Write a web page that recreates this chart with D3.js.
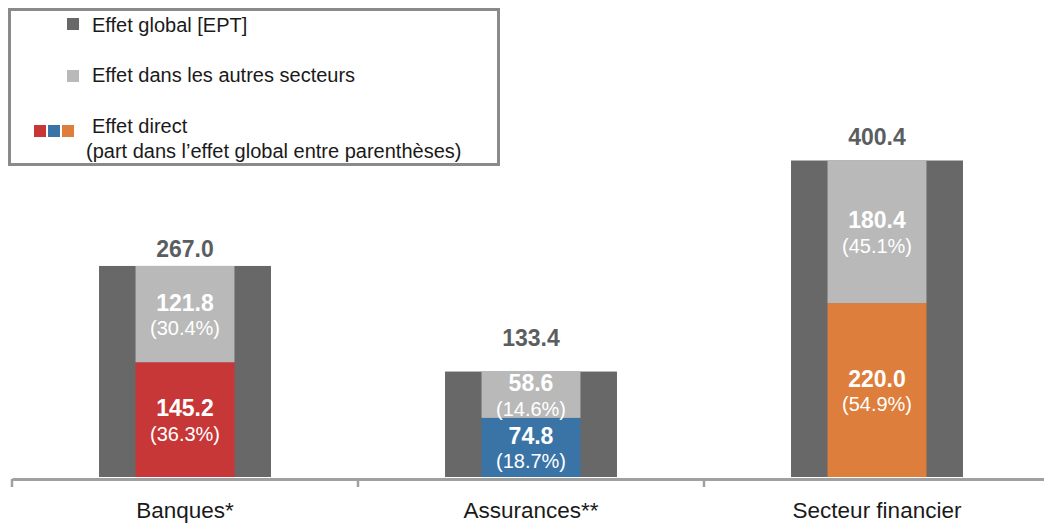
<!DOCTYPE html>
<html lang="fr">
<head>
  <meta charset="UTF-8">
  <title>Effet global, direct et dans les autres secteurs</title>
  <script src="https://d3js.org/d3.v7.min.js"></script>
  <style>
    body { margin: 0; background: #fff; }
    svg { display: block; font-family: "Liberation Sans", Arial, sans-serif; }
  </style>
</head>
<body>
  <svg width="1044" height="523"></svg>
  <script>
    // values
    const categories = ["Banques*", "Assurances**", "Secteur financier"];
    const globalEffect = [267.0, 133.4, 400.4];
    const otherSectors = [121.8, 58.6, 180.4];
    const directEffect = [145.2, 74.8, 220.0];
    const otherShare = [30.4, 14.6, 45.1];
    const directShare = [36.3, 18.7, 54.9];

    const directColors = ["#c83737", "#3a74a7", "#dd7e3c"];
    const totalLabelGap = [9, 26, 16]; // labels sit at uneven heights in the original

    const svg = d3.select("svg");

    const x = d3.scaleBand().domain(categories).range([12, 1050]).padding(0);
    const y = d3.scaleLinear().domain([0, 400.4]).range([477, 160.5]);
    const bw = x.bandwidth();
    const outerW = bw * 0.497, innerW = bw * 0.286;

    const rows = categories.map((c, i) => ({
      cat: c, total: globalEffect[i], other: otherSectors[i], direct: directEffect[i],
      otherPct: otherShare[i], directPct: directShare[i], color: directColors[i], gap: totalLabelGap[i]
    }));

    const cx = d => x(d.cat) + bw / 2;

    // global effect (wide dark bar)
    svg.append("g").selectAll("rect").data(rows).enter().append("rect")
      .attr("x", d => cx(d) - outerW / 2)
      .attr("width", outerW)
      .attr("y", d => y(d.total))
      .attr("height", d => y(0) - y(d.total))
      .attr("fill", "#686868");

    // direct effect
    svg.append("g").selectAll("rect").data(rows).enter().append("rect")
      .attr("x", d => cx(d) - innerW / 2)
      .attr("width", innerW)
      .attr("y", d => y(d.direct))
      .attr("height", d => y(0) - y(d.direct))
      .attr("fill", d => d.color);

    // effect in other sectors, stacked on direct
    svg.append("g").selectAll("rect").data(rows).enter().append("rect")
      .attr("x", d => cx(d) - innerW / 2)
      .attr("width", innerW)
      .attr("y", d => y(d.direct + d.other))
      .attr("height", d => y(d.direct) - y(d.direct + d.other))
      .attr("fill", "#b9b9b9");

    // segment labels
    const segs = [];
    rows.forEach(d => {
      segs.push({ d, mid: (y(0) + y(d.direct)) / 2, v: d.direct, p: d.directPct });
      segs.push({ d, mid: (y(d.direct) + y(d.direct + d.other)) / 2, v: d.other, p: d.otherPct });
    });
    const lab = svg.append("g").attr("fill", "#fff").attr("text-anchor", "middle");
    lab.selectAll("text.v").data(segs).enter().append("text")
      .attr("class", "v")
      .attr("x", s => cx(s.d))
      .attr("y", s => s.mid - 3.5)
      .attr("font-size", 23).attr("font-weight", "bold")
      .text(s => s.v.toFixed(1));
    lab.selectAll("text.p").data(segs).enter().append("text")
      .attr("class", "p")
      .attr("x", s => cx(s.d))
      .attr("y", s => s.mid + 21)
      .attr("font-size", 20)
      .text(s => "(" + s.p.toFixed(1) + "%)");

    // total labels
    svg.append("g").selectAll("text").data(rows).enter().append("text")
      .attr("x", d => cx(d))
      .attr("y", d => y(d.total) - d.gap)
      .attr("text-anchor", "middle")
      .attr("font-size", 23).attr("font-weight", "bold")
      .attr("fill", "#5b5e61")
      .text(d => d.total.toFixed(1));

    // category axis
    const axis = svg.append("g").attr("transform", "translate(0,479)")
      .call(d3.axisBottom(x).tickSize(0).tickSizeOuter(0).tickPadding(23));
    axis.select(".domain").attr("stroke", "#a0a0a0").attr("stroke-width", 3);
    axis.selectAll("text").attr("font-size", 22.5).attr("fill", "#1a1a1a")
      .attr("font-family", "Liberation Sans, Arial, sans-serif");
    axis.selectAll(".bound").data(categories.map(c => x(c)).concat([x.range()[1]]))
      .enter().append("line").attr("class", "bound")
      .attr("x1", d => d).attr("x2", d => d)
      .attr("y1", 0).attr("y2", 8)
      .attr("stroke", "#a0a0a0").attr("stroke-width", 2.5);

    // legend
    const lg = svg.append("g");
    lg.append("rect").attr("x", 9.5).attr("y", 9.5).attr("width", 489).attr("height", 155)
      .attr("fill", "#fff").attr("stroke", "#8a8a8a").attr("stroke-width", 3);
    lg.append("rect").attr("x", 67).attr("y", 18).attr("width", 12).attr("height", 12).attr("fill", "#686868");
    lg.append("rect").attr("x", 67).attr("y", 70).attr("width", 12).attr("height", 12).attr("fill", "#b9b9b9");
    lg.selectAll("rect.sw").data(directColors).enter().append("rect").attr("class", "sw")
      .attr("x", (c, i) => 34 + i * 14).attr("y", 125).attr("width", 12).attr("height", 12)
      .attr("fill", c => c);
    const lt = [
      { t: "Effet global [EPT]", x: 92, y: 32 },
      { t: "Effet dans les autres secteurs", x: 92, y: 82 },
      { t: "Effet direct", x: 92, y: 133 },
      { t: "(part dans l\u2019effet global entre parenth\u00e8ses)", x: 86, y: 158 }
    ];
    lg.selectAll("text").data(lt).enter().append("text")
      .attr("x", d => d.x).attr("y", d => d.y)
      .attr("font-size", 20).attr("fill", "#1a1a1a")
      .text(d => d.t);
  </script>
</body>
</html>
